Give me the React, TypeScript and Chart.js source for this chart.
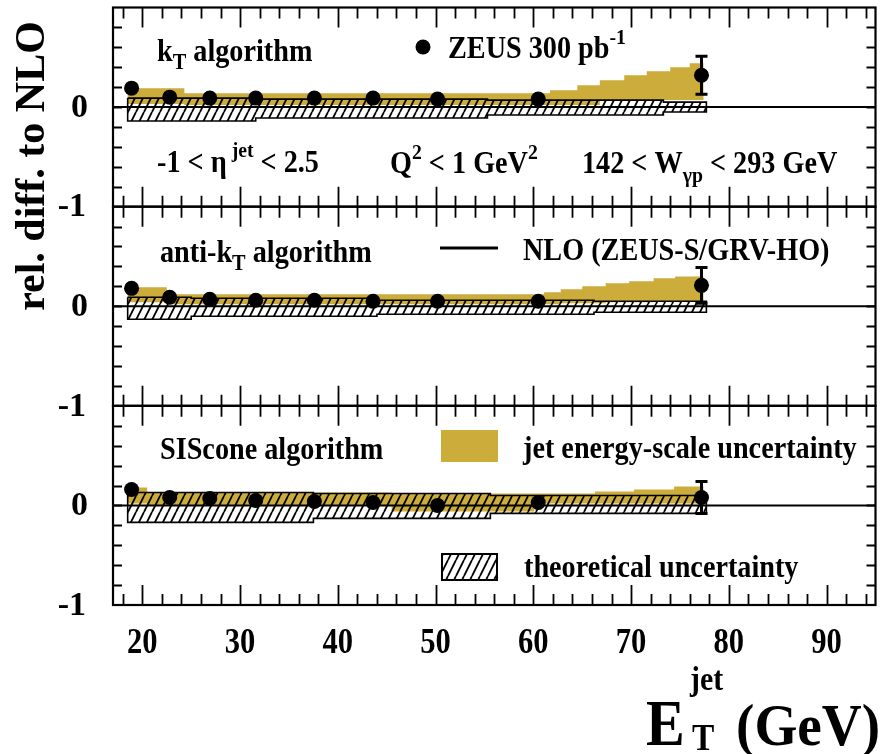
import React, { useEffect, useRef } from 'react';
import { Chart, registerables } from 'chart.js';

Chart.register(...registerables);

// Mean E_T^jet of each measured bin (GeV)
const ET_POINTS = [18.9, 22.8, 26.9, 31.6, 37.6, 43.6, 50.2, 60.5, 77.2];

// Relative difference of the data to NLO, per jet algorithm
const KT_DIFF = [0.19, 0.1, 0.09, 0.09, 0.09, 0.09, 0.08, 0.08, 0.32];
const ANTIKT_DIFF = [0.18, 0.09, 0.07, 0.06, 0.06, 0.05, 0.05, 0.05, 0.21];
const SISCONE_DIFF = [0.16, 0.08, 0.07, 0.05, 0.04, 0.03, 0.0, 0.03, 0.08];

// Statistical uncertainties
const KT_ERR = [0.01, 0.01, 0.01, 0.01, 0.01, 0.02, 0.02, 0.03, 0.19];
const ANTIKT_ERR = [0.01, 0.01, 0.01, 0.01, 0.01, 0.02, 0.02, 0.03, 0.18];
const SISCONE_ERR = [0.01, 0.01, 0.01, 0.01, 0.01, 0.02, 0.02, 0.03, 0.16];

// Jet energy-scale uncertainty band: step edges (GeV) and band limits
const KT_JES_EDGES = [18.5, 24.3, 61.7, 64.5, 66.8, 69.3, 71.6, 74.0, 76.0, 77.4];
const KT_JES_HIGH = [0.19, 0.14, 0.17, 0.22, 0.27, 0.32, 0.36, 0.4, 0.44];
const KT_JES_LOW = [0.03, 0.02, 0.02, 0.02, 0.07, 0.07, 0.07, 0.07, 0.07];

const ANTIKT_JES_EDGES = [18.5, 22.5, 61.1, 62.8, 65.0, 67.4, 69.8, 72.3, 74.5, 77.4];
const ANTIKT_JES_HIGH = [0.19, 0.12, 0.14, 0.17, 0.2, 0.23, 0.25, 0.28, 0.3];
const ANTIKT_JES_LOW = [0.04, 0.02, 0.02, 0.03, 0.03, 0.04, 0.04, 0.05, 0.05];

const SISCONE_JES_EDGES = [18.5, 20.5, 45.5, 60.1, 66.3, 70.3, 74.4, 77.4];
const SISCONE_JES_HIGH = [0.18, 0.13, 0.12, 0.12, 0.14, 0.16, 0.19];
const SISCONE_JES_LOW = [0.02, 0.0, -0.06, 0.02, 0.02, 0.02, 0.02];

// Theoretical uncertainty band of the NLO prediction
const KT_TH_EDGES = [18.5, 31.6, 55.3, 73.3, 77.7];
const KT_TH_HIGH = [0.09, 0.08, 0.07, 0.05];
const KT_TH_LOW = [-0.14, -0.11, -0.08, -0.05];

const ANTIKT_TH_EDGES = [18.5, 25.0, 44.0, 66.2, 77.7];
const ANTIKT_TH_HIGH = [0.09, 0.08, 0.06, 0.05];
const ANTIKT_TH_LOW = [-0.13, -0.1, -0.08, -0.06];

const SISCONE_TH_EDGES = [18.5, 37.5, 55.6, 77.7];
const SISCONE_TH_HIGH = [0.13, 0.12, 0.1];
const SISCONE_TH_LOW = [-0.17, -0.13, -0.08];

// Axis layout
const X_MIN = 17;
const X_MAX = 95;
const X_TICK_LABELS = [20, 30, 40, 50, 60, 70, 80, 90];
const Y_MIN = -1;
const Y_MAX = 1;

const JES_COLOR = 'rgb(204, 172, 58)';
const FONT = '"Liberation Serif", "Times New Roman", serif';

type Pt = { x: number; y: number };

// Closed outline of a stepped band: along the upper edge, back along the lower edge
function bandShape(edges: number[], low: number[], high: number[]): Pt[] {
  const pts: Pt[] = [];
  for (let i = 0; i < high.length; i++) {
    pts.push({ x: edges[i], y: high[i] });
    pts.push({ x: edges[i + 1], y: high[i] });
  }
  for (let i = low.length - 1; i >= 0; i--) {
    pts.push({ x: edges[i + 1], y: low[i] });
    pts.push({ x: edges[i], y: low[i] });
  }
  pts.push({ ...pts[0] });
  return pts;
}

type Seg = { t: string; k?: number; dy?: number };

function drawRich(ctx: CanvasRenderingContext2D, x: number, y: number, segs: Seg[], size: number, sx = 1) {
  ctx.save();
  ctx.translate(x, y);
  ctx.scale(sx, 1);
  ctx.textAlign = 'left';
  ctx.textBaseline = 'alphabetic';
  let cx = 0;
  for (const s of segs) {
    const fs = size * (s.k ?? 1);
    ctx.font = `bold ${fs}px ${FONT}`;
    ctx.fillText(s.t, cx, s.dy ?? 0);
    cx += ctx.measureText(s.t).width;
  }
  ctx.restore();
}

function makeHatch(): CanvasPattern | string {
  const c = document.createElement('canvas');
  c.width = 8;
  c.height = 16;
  const p = c.getContext('2d');
  if (!p) return '#fff';
  p.strokeStyle = '#000';
  p.lineWidth = 1.8;
  p.beginPath();
  for (const dx of [-8, 0, 8]) {
    p.moveTo(dx, 16);
    p.lineTo(dx + 8, 0);
  }
  p.stroke();
  const pat = p.createPattern(c, 'repeat');
  return pat ?? '#fff';
}

const PANELS = [
  { id: 'y1', diff: KT_DIFF, err: KT_ERR, jes: [KT_JES_EDGES, KT_JES_LOW, KT_JES_HIGH], th: [KT_TH_EDGES, KT_TH_LOW, KT_TH_HIGH] },
  { id: 'y2', diff: ANTIKT_DIFF, err: ANTIKT_ERR, jes: [ANTIKT_JES_EDGES, ANTIKT_JES_LOW, ANTIKT_JES_HIGH], th: [ANTIKT_TH_EDGES, ANTIKT_TH_LOW, ANTIKT_TH_HIGH] },
  { id: 'y3', diff: SISCONE_DIFF, err: SISCONE_ERR, jes: [SISCONE_JES_EDGES, SISCONE_JES_LOW, SISCONE_JES_HIGH], th: [SISCONE_TH_EDGES, SISCONE_TH_LOW, SISCONE_TH_HIGH] },
];

export default function App() {
  const canvasRef = useRef<HTMLCanvasElement | null>(null);

  useEffect(() => {
    const canvas = canvasRef.current;
    if (!canvas) return;
    const hatch = makeHatch();

    const datasets: any[] = [];
    PANELS.forEach((p) => {
      datasets.push({
        label: 'data',
        yAxisID: p.id,
        data: ET_POINTS.map((x, i) => ({ x, y: p.diff[i] })),
        showLine: false,
        pointRadius: 7.5,
        pointHoverRadius: 7.5,
        pointBackgroundColor: '#000',
        pointBorderColor: '#000',
        borderWidth: 0,
        order: 0,
      });
      datasets.push({
        label: 'NLO',
        yAxisID: p.id,
        data: [{ x: X_MIN, y: 0 }, { x: X_MAX, y: 0 }],
        borderColor: '#000',
        borderWidth: 2,
        pointRadius: 0,
        fill: false,
        order: 1,
      });
      datasets.push({
        label: 'theory',
        yAxisID: p.id,
        data: bandShape(p.th[0], p.th[1], p.th[2]),
        borderColor: '#000',
        borderWidth: 1.6,
        backgroundColor: hatch,
        pointRadius: 0,
        fill: 'shape',
        order: 2,
      });
      datasets.push({
        label: 'jes',
        yAxisID: p.id,
        data: bandShape(p.jes[0], p.jes[1], p.jes[2]),
        borderColor: JES_COLOR,
        borderWidth: 0,
        backgroundColor: JES_COLOR,
        pointRadius: 0,
        fill: 'shape',
        order: 3,
      });
    });

    const yScale = (weight: number) => ({
      type: 'linear',
      position: 'left',
      stack: 'panels',
      stackWeight: 1,
      weight,
      min: Y_MIN,
      max: Y_MAX,
      grid: { display: false },
      border: { display: false },
      ticks: { display: false },
      afterFit: (s: any) => {
        s.width = 113;
      },
    });

    const decorations = {
      id: 'decorations',
      afterDatasetsDraw(chart: any) {
        const ctx: CanvasRenderingContext2D = chart.ctx;
        const xs = chart.scales.x;
        const { left, right } = chart.chartArea;
        ctx.save();
        // error bars
        PANELS.forEach((p) => {
          const ys = chart.scales[p.id];
          ctx.strokeStyle = '#000';
          ctx.lineWidth = 3;
          ET_POINTS.forEach((x, i) => {
            const px = xs.getPixelForValue(x);
            const y0 = ys.getPixelForValue(p.diff[i] - p.err[i]);
            const y1 = ys.getPixelForValue(p.diff[i] + p.err[i]);
            ctx.beginPath();
            ctx.moveTo(px, y0);
            ctx.lineTo(px, y1);
            if (y0 - y1 > 16) {
              ctx.moveTo(px - 6, y0);
              ctx.lineTo(px + 6, y0);
              ctx.moveTo(px - 6, y1);
              ctx.lineTo(px + 6, y1);
            }
            ctx.stroke();
          });
        });
        // frames and inward ticks
        PANELS.forEach((p) => {
          const ys = chart.scales[p.id];
          const top = ys.top;
          const bottom = ys.bottom;
          ctx.strokeStyle = '#000';
          ctx.lineWidth = 1.8;
          ctx.beginPath();
          for (let v = 18; v <= 94; v += 2) {
            const px = Math.round(xs.getPixelForValue(v)) + 0.5;
            const len = v % 10 === 0 ? 20 : 11;
            ctx.moveTo(px, top);
            ctx.lineTo(px, top + len);
            ctx.moveTo(px, bottom);
            ctx.lineTo(px, bottom - len);
          }
          for (let k = -4; k <= 4; k++) {
            const py = Math.round(ys.getPixelForValue(k * 0.2)) + 0.5;
            ctx.moveTo(left, py);
            ctx.lineTo(left + 9, py);
            ctx.moveTo(right, py);
            ctx.lineTo(right - 9, py);
          }
          ctx.stroke();
          ctx.lineWidth = 2.2;
          ctx.strokeRect(left, top, right - left, bottom - top);
        });
        ctx.restore();
      },
      afterDraw(chart: any) {
        const ctx: CanvasRenderingContext2D = chart.ctx;
        const xs = chart.scales.x;
        ctx.save();
        ctx.fillStyle = '#000';

        // y tick labels
        ctx.font = `bold 34px ${FONT}`;
        ctx.textAlign = 'right';
        ctx.textBaseline = 'middle';
        PANELS.forEach((p) => {
          const ys = chart.scales[p.id];
          ctx.fillText('0', 88, ys.getPixelForValue(0) + 1);
          ctx.fillText('-1', 86, ys.getPixelForValue(-1) + 1);
        });

        // x tick labels
        ctx.textAlign = 'center';
        ctx.textBaseline = 'alphabetic';
        X_TICK_LABELS.forEach((v) => {
          ctx.save();
          ctx.translate(xs.getPixelForValue(v), 653);
          ctx.scale(0.85, 1);
          ctx.font = `bold 36px ${FONT}`;
          ctx.fillText(String(v), 0, 0);
          ctx.restore();
        });

        // y title
        ctx.save();
        ctx.translate(33, 166);
        ctx.rotate(-Math.PI / 2);
        ctx.textAlign = 'center';
        ctx.textBaseline = 'middle';
        ctx.font = `bold 42px ${FONT}`;
        ctx.fillText('rel. diff. to NLO', 0, 0);
        ctx.restore();

        // x title
        drawRich(ctx, 646, 745, [{ t: 'E' }], 66, 0.88);
        drawRich(ctx, 690, 690, [{ t: 'jet' }], 34, 0.88);
        drawRich(ctx, 692, 750, [{ t: 'T' }], 38, 0.88);
        drawRich(ctx, 736, 745, [{ t: '(GeV)' }], 60, 0.92);

        // panel annotations
        const S = 31;
        const SX = 0.91;
        drawRich(ctx, 157, 61, [{ t: 'k' }, { t: 'T', k: 0.72, dy: 8 }, { t: ' algorithm' }], S, SX);
        drawRich(ctx, 448, 58, [{ t: 'ZEUS 300 pb' }, { t: '-1', k: 0.7, dy: -14 }], S, SX);
        drawRich(ctx, 157, 172, [{ t: '-1 < η' }, { t: ' jet', k: 0.7, dy: -15 }, { t: ' < 2.5' }], S, SX);
        drawRich(ctx, 390, 173, [{ t: 'Q' }, { t: '2', k: 0.7, dy: -14 }, { t: ' < 1 GeV' }, { t: '2', k: 0.7, dy: -14 }], S, SX);
        drawRich(ctx, 582, 173, [{ t: '142 < W' }, { t: 'γp', k: 0.7, dy: 9 }, { t: ' < 293 GeV' }], S, SX);
        drawRich(ctx, 160, 262, [{ t: 'anti-k' }, { t: 'T', k: 0.72, dy: 8 }, { t: ' algorithm' }], S, SX);
        drawRich(ctx, 523, 260, [{ t: 'NLO (ZEUS-S/GRV-HO)' }], S, SX);
        drawRich(ctx, 160, 459, [{ t: 'SIScone algorithm' }], S, SX);
        drawRich(ctx, 523, 458, [{ t: 'jet energy-scale uncertainty' }], S, SX);
        drawRich(ctx, 524, 577, [{ t: 'theoretical uncertainty' }], S, SX);

        // legend glyphs
        ctx.beginPath();
        ctx.arc(423, 47, 7.5, 0, Math.PI * 2);
        ctx.fill();
        ctx.strokeStyle = '#000';
        ctx.lineWidth = 3;
        ctx.beginPath();
        ctx.moveTo(440, 248);
        ctx.lineTo(498, 248);
        ctx.stroke();
        ctx.fillStyle = JES_COLOR;
        ctx.fillRect(441, 430, 57, 32);
        ctx.fillStyle = hatch as any;
        ctx.fillRect(442, 554, 55, 26);
        ctx.lineWidth = 2;
        ctx.strokeRect(442, 554, 55, 26);
        ctx.restore();
      },
    };

    const chart = new Chart(canvas, {
      type: 'line',
      data: { datasets },
      options: {
        animation: false,
        responsive: false,
        layout: { padding: { top: 7, right: 4, left: 0, bottom: 0 } },
        plugins: { legend: { display: false }, tooltip: { enabled: false } },
        scales: {
          x: {
            type: 'linear',
            min: X_MIN,
            max: X_MAX,
            grid: { display: false },
            border: { display: false },
            ticks: { display: false },
            afterFit: (s: any) => {
              s.height = 149;
            },
          },
          y1: yScale(3),
          y2: yScale(2),
          y3: yScale(1),
        } as any,
      },
      plugins: [decorations],
    } as any);

    return () => chart.destroy();
  }, []);

  return (
    <div style={{ position: 'fixed', left: 0, top: 0, width: 883, height: 754, background: '#fff' }}>
      <canvas ref={canvasRef} width={883} height={754} style={{ width: 883, height: 754, display: 'block' }} />
    </div>
  );
}
